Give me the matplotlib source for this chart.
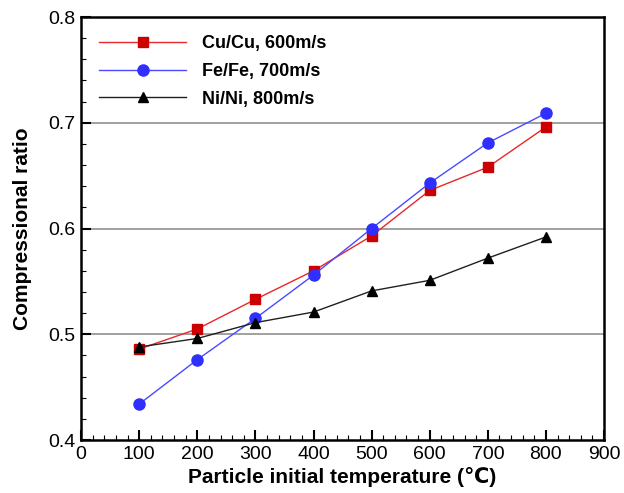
import matplotlib
matplotlib.use('Agg')
import matplotlib.pyplot as plt
from matplotlib.ticker import MultipleLocator

plt.rcParams['font.family'] = ['Liberation Sans', 'DejaVu Sans']

# Data
temperature = [100, 200, 300, 400, 500, 600, 700, 800]
cu_ratio = [0.486, 0.505, 0.533, 0.560, 0.593, 0.636, 0.658, 0.696]
fe_ratio = [0.434, 0.476, 0.515, 0.556, 0.600, 0.643, 0.681, 0.709]
ni_ratio = [0.488, 0.496, 0.511, 0.521, 0.541, 0.551, 0.572, 0.592]
series_labels = ['Cu/Cu, 600m/s', 'Fe/Fe, 700m/s', 'Ni/Ni, 800m/s']

fig = plt.figure(figsize=(6.24, 4.93), dpi=100)
ax = fig.add_axes([0.130, 0.1075, 0.838, 0.858])

# Horizontal grid lines only
for yg in [0.5, 0.6, 0.7]:
    ax.axhline(yg, color='#909090', lw=1.2, zorder=0)

ax.plot(temperature, cu_ratio, color='#e8282a', lw=1.0, marker='s', ms=7,
        mfc='#cc0000', mec='#cc0000', label=series_labels[0])
ax.plot(temperature, fe_ratio, color='#4a4aff', lw=1.0, marker='o', ms=8,
        mfc='#2f2fff', mec='#2f2fff', label=series_labels[1])
ax.plot(temperature, ni_ratio, color='#202020', lw=1.0, marker='^', ms=7,
        mfc='black', mec='black', label=series_labels[2])

ax.set_xlim(0, 900)
ax.set_ylim(0.4, 0.8)
ax.xaxis.set_major_locator(MultipleLocator(100))
ax.xaxis.set_minor_locator(MultipleLocator(20))
ax.yaxis.set_major_locator(MultipleLocator(0.1))
ax.yaxis.set_minor_locator(MultipleLocator(0.02))
ax.tick_params(which='major', direction='in', length=7, width=1.5, labelsize=14, pad=4)
ax.tick_params(which='minor', direction='in', length=3.5, width=0.8)
ax.tick_params(top=False, right=False, which='both')
for s in ax.spines.values():
    s.set_linewidth(1.8)

ax.set_xlabel('Particle initial temperature (\u2103)', fontsize=15, fontweight='bold', labelpad=3)
ax.set_ylabel('Compressional ratio', fontsize=15, fontweight='bold', labelpad=12)

leg = ax.legend(loc='upper left', frameon=False, handlelength=4.8,
                prop={'weight': 'bold', 'size': 13}, labelspacing=0.6,
                borderaxespad=0.6, handletextpad=0.9)

fig.savefig('out.png', dpi=100)
